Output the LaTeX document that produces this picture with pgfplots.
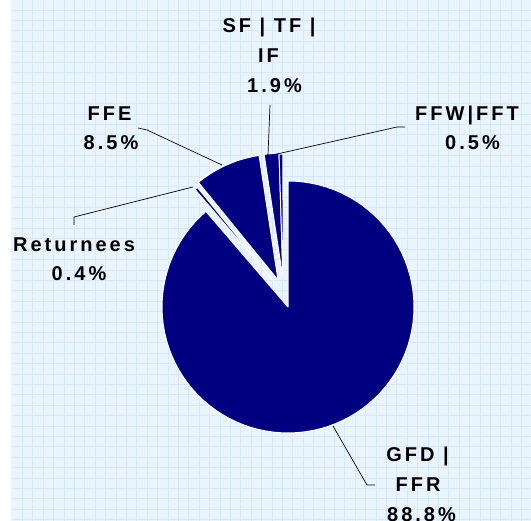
\documentclass[border=0pt]{standalone}
\usepackage{pgfplots}
\pgfplotsset{compat=1.18}
\usepackage{fontspec}
\setmainfont{Liberation Sans}
\newfontfamily\lblfont{Liberation Sans}[LetterSpace=15]
\definecolor{navy}{HTML}{000080}
\definecolor{bgblue}{HTML}{EAF4FF}
\definecolor{gridblue}{HTML}{D6E9FC}
% data (percent)
\def\vGFD{88.8}\def\vRet{0.4}\def\vFFE{8.5}\def\vSF{1.9}\def\vFFW{0.5}
\newcommand{\slice}[4]{%
 \edef\doslice{\noexpand\addplot[fill=navy, draw=white, line width=1pt, line join=round, domain=#1:#2, samples=90] ({#3+126*sin(x)},{#4-126*cos(x)}) -- (axis cs:#3,#4) -- cycle;}%
 \doslice}
\newcommand{\lbl}[3]{\node[anchor=base, inner sep=0pt, font=\lblfont\bfseries\fontsize{20}{24}\selectfont] at (axis cs:#1,#2) {#3};}
\begin{document}
\begin{tikzpicture}
\path[use as bounding box] (0,0) rectangle (531pt,521pt);
\clip (0,0) rectangle (531pt,521pt);
\pgfmathsetmacro\tot{\vGFD+\vRet+\vFFE+\vSF+\vFFW}
\pgfmathsetmacro\aA{\vGFD/\tot*360}
\pgfmathsetmacro\aB{\aA+\vRet/\tot*360}
\pgfmathsetmacro\aC{\aB+\vFFE/\tot*360}
\pgfmathsetmacro\aD{\aC+\vSF/\tot*360}
\begin{axis}[scale only axis, width=531pt, height=521pt,
  xmin=0, xmax=531, ymin=0, ymax=521, y dir=reverse,
  hide axis]
% background with fine grid
\addplot[fill=bgblue, draw=none] coordinates {(10.5,0) (531,0) (531,521) (10.5,521)} -- cycle;
\draw[gridblue, line width=0.7pt, step=10.4pt, shift={(1.6pt,0.4pt)}] (axis cs:11,521) grid (axis cs:531,0);
% slices
\slice{0}{\aA}{288}{307}
\slice{\aA}{\aB}{277}{285}
\slice{\aB}{\aC}{278}{280}
\slice{\aC}{\aD}{283}{279}
\slice{\aD}{360}{283}{280}
% leader lines
\addplot[black, line width=0.7pt] coordinates {(270,105) (268,155)};
\addplot[black, line width=0.7pt] coordinates {(138,128) (147,130) (222,165)};
\addplot[black, line width=0.7pt] coordinates {(405,127) (397,127) (277,154)};
\addplot[black, line width=0.7pt] coordinates {(74,225) (74,217) (193,187)};
\addplot[black, line width=0.7pt] coordinates {(333,426) (367,485) (375,485)};
% labels
\lbl{269}{33}{SF | TF |}
\lbl{268.5}{63}{IF}
\lbl{274.5}{93}{1.9\%}
\lbl{109.5}{121}{FFE}
\lbl{111}{150}{8.5\%}
\lbl{467}{121}{FFW|FFT}
\lbl{472.5}{150}{0.5\%}
\lbl{74}{251.5}{Returnees}
\lbl{79}{281}{0.4\%}
\lbl{417.5}{462}{GFD |}
\lbl{418}{492}{FFR}
\lbl{421.5}{522}{88.8\%}
\end{axis}
\end{tikzpicture}
\end{document}
